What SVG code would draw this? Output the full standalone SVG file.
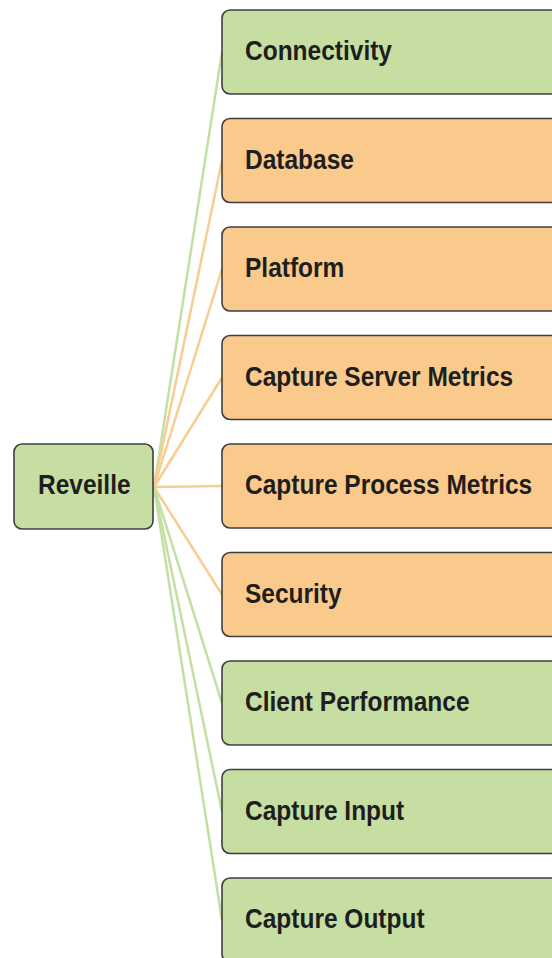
<svg xmlns="http://www.w3.org/2000/svg" width="552" height="958" viewBox="0 0 552 958">
<style>
.box{stroke:#3f3f3f;stroke-width:1.6}
.g{fill:#c6dea1}
.o{fill:#f9ca8b}
.lg{stroke:#c3e0a4;stroke-width:2.5;fill:none}
.lo{stroke:#f8cd92;stroke-width:2.5;fill:none}
text{font-family:"Liberation Sans",Arial,sans-serif;font-weight:bold;font-size:24.5px;fill:#1e1e1e}
</style>
<rect width="552" height="958" fill="#ffffff"/>
<g id="connectors">
<line class="lg" x1="154" y1="487" x2="222" y2="52"/>
<line class="lo" x1="154" y1="487" x2="222" y2="160.5"/>
<line class="lo" x1="154" y1="487" x2="222" y2="269"/>
<line class="lo" x1="154" y1="487" x2="222" y2="377.5"/>
<line class="lo" x1="154" y1="487" x2="222" y2="486"/>
<line class="lo" x1="154" y1="487" x2="222" y2="594.5"/>
<line class="lg" x1="154" y1="487" x2="222" y2="703"/>
<line class="lg" x1="154" y1="487" x2="222" y2="811.5"/>
<line class="lg" x1="154" y1="487" x2="222" y2="920"/>
</g>
<g id="reveille"><rect class="box g" x="14" y="444" width="139" height="85" rx="8"/><text transform="translate(38,494) scale(1,1.15)">Reveille</text></g>
<g id="connectivity"><rect class="box g" x="222" y="10" width="350" height="84" rx="8"/><text transform="translate(245,60) scale(1,1.15)">Connectivity</text></g>
<g id="database"><rect class="box o" x="222" y="118.5" width="350" height="84" rx="8"/><text transform="translate(245,168.5) scale(1,1.15)">Database</text></g>
<g id="platform"><rect class="box o" x="222" y="227" width="350" height="84" rx="8"/><text transform="translate(245,277) scale(1,1.15)">Platform</text></g>
<g id="capture-server-metrics"><rect class="box o" x="222" y="335.5" width="350" height="84" rx="8"/><text transform="translate(245,385.5) scale(1,1.15)">Capture Server Metrics</text></g>
<g id="capture-process-metrics"><rect class="box o" x="222" y="444" width="350" height="84" rx="8"/><text transform="translate(245,494) scale(1,1.15)">Capture Process Metrics</text></g>
<g id="security"><rect class="box o" x="222" y="552.5" width="350" height="84" rx="8"/><text transform="translate(245,602.5) scale(1,1.15)">Security</text></g>
<g id="client-performance"><rect class="box g" x="222" y="661" width="350" height="84" rx="8"/><text transform="translate(245,711) scale(1,1.15)">Client Performance</text></g>
<g id="capture-input"><rect class="box g" x="222" y="769.5" width="350" height="84" rx="8"/><text transform="translate(245,819.5) scale(1,1.15)">Capture Input</text></g>
<g id="capture-output"><rect class="box g" x="222" y="878" width="350" height="84" rx="8"/><text transform="translate(245,928) scale(1,1.15)">Capture Output</text></g>
</svg>
